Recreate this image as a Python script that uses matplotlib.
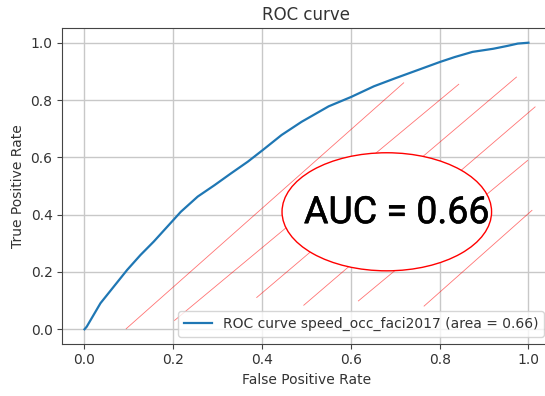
import matplotlib
matplotlib.use('Agg')
import matplotlib.pyplot as plt
import matplotlib.patheffects as pe
from matplotlib.patches import Ellipse

# ROC curve points (false positive rate, true positive rate)
fpr = [0.0, 0.005, 0.036, 0.066, 0.096, 0.126, 0.156, 0.2, 0.217, 0.255,
       0.293, 0.33, 0.368, 0.402, 0.444, 0.489, 0.55, 0.601, 0.652, 0.7,
       0.755, 0.801, 0.834, 0.874, 0.921, 0.953, 0.976, 1.0]
tpr = [0.0, 0.009, 0.091, 0.149, 0.207, 0.259, 0.306, 0.381, 0.41, 0.463,
       0.503, 0.544, 0.585, 0.626, 0.678, 0.724, 0.778, 0.811, 0.848, 0.876,
       0.907, 0.933, 0.95, 0.968, 0.979, 0.989, 0.997, 1.0]
roc_auc = 0.66
model_name = 'speed_occ_faci2017'

# hatch strokes under the curve: (x0, y0, x1, y1)
hatch_x0 = [0.094, 0.203, 0.388, 0.494, 0.617, 0.765]
hatch_y0 = [0.002, 0.031, 0.111, 0.084, 0.099, 0.081]
hatch_x1 = [0.719, 0.843, 0.973, 1.015, 0.998, 1.008]
hatch_y1 = [0.860, 0.855, 0.880, 0.776, 0.589, 0.415]

fig = plt.figure(figsize=(5.45, 3.96), dpi=100)
ax = fig.add_axes([0.1143, 0.1323, 0.896, 0.796])

for x0, y0, x1, y1 in zip(hatch_x0, hatch_y0, hatch_x1, hatch_y1):
    ax.plot([x0, x1], [y0, y1], color='red', lw=0.6, alpha=0.55, zorder=3)

ax.plot(fpr, tpr, color='#1f77b4', lw=1.6, zorder=4,
        label='ROC curve %s (area = %0.2f)' % (model_name, roc_auc))

ell = Ellipse((0.681, 0.410), 0.472, 0.412, facecolor='white',
              edgecolor='red', lw=1.0, zorder=5)
ax.add_patch(ell)
ax.text(0.703, 0.407, 'AUC = %0.2f' % roc_auc, ha='center', va='center',
        fontsize=27, family='Roboto', weight='normal', color='black', zorder=6,
        path_effects=[pe.withStroke(linewidth=0.4, foreground='black')])

ax.set_xlim(-0.05, 1.05)
ax.set_ylim(-0.05, 1.05)
ax.set_xticks([0.0, 0.2, 0.4, 0.6, 0.8, 1.0])
ax.set_yticks([0.0, 0.2, 0.4, 0.6, 0.8, 1.0])
ax.grid(True, color='#c8c8c8', lw=1.0)
ax.set_axisbelow(True)
for side in ax.spines.values():
    side.set_color('#444444')
ax.tick_params(colors='#444444', labelcolor='#333333')

ax.set_xlabel('False Positive Rate', color='#333333')
ax.set_ylabel('True Positive Rate', color='#333333')
ax.set_title('ROC curve', color='#333333')
leg = ax.legend(loc='lower right')
leg.set_zorder(7)
for t in leg.get_texts():
    t.set_color('#333333')

fig.savefig('out.png', dpi=100)
